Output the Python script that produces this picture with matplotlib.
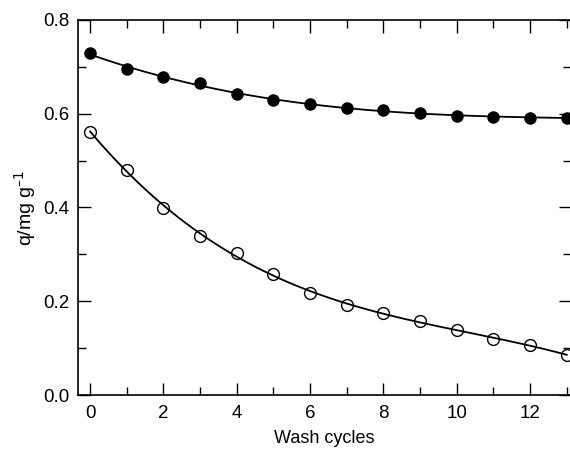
import numpy as np
import matplotlib
matplotlib.use("Agg")
import matplotlib.pyplot as plt
from matplotlib.ticker import MultipleLocator

plt.rcParams['font.family'] = ['Liberation Sans', 'DejaVu Sans']

cycles = [0, 1, 2, 3, 4, 5, 6, 7, 8, 9, 10, 11, 12, 13]
q_filled = [0.730, 0.695, 0.678, 0.665, 0.643, 0.630, 0.620, 0.613, 0.607, 0.601, 0.595, 0.593, 0.592, 0.592]
q_open = [0.562, 0.480, 0.400, 0.340, 0.302, 0.258, 0.218, 0.192, 0.175, 0.157, 0.138, 0.120, 0.106, 0.086]

fig = plt.figure(figsize=(5.70, 4.49), dpi=100)
ax = fig.add_axes([78/570, 1-395/449, 1-78/570 + 0.002, (395-20)/449])

xs = np.linspace(0, 13, 300)
pf = np.polyfit(cycles, q_filled, 3)
po = np.polyfit(cycles, q_open, 3)
ax.plot(xs, np.polyval(pf, xs), color='black', lw=1.3, zorder=2)
ax.plot(xs, np.polyval(po, xs), color='black', lw=1.3, zorder=2)

ax.plot(cycles, q_filled, 'o', ms=8, mfc='black', mec='black', zorder=3, clip_on=False)
ax.plot(cycles, q_open, 'o', ms=8.5, mfc='none', mec='black', mew=1.0, zorder=3, clip_on=False)

ax.set_xlim(-0.33, 13.12)
ax.set_ylim(0, 0.8)
ax.xaxis.set_major_locator(MultipleLocator(2))
ax.xaxis.set_minor_locator(MultipleLocator(1))
ax.yaxis.set_major_locator(MultipleLocator(0.2))
ax.yaxis.set_minor_locator(MultipleLocator(0.1))
ax.yaxis.set_major_formatter(matplotlib.ticker.FormatStrFormatter('%.1f'))
ax.tick_params(which='both', direction='in', top=True, right=True, width=1.0, labelsize=13.5)
ax.tick_params(which='major', length=9)
ax.tick_params(which='minor', length=6)
ax.tick_params(axis='x', pad=7)
ax.tick_params(axis='y', pad=6)
for s in ax.spines.values():
    s.set_linewidth(1.2)

ax.set_xlabel('Wash cycles', fontsize=13, labelpad=6)
ax.set_ylabel('q/mg g$^{\u2013 1}$', fontsize=14, labelpad=4)

fig.savefig('out.png', dpi=100)
